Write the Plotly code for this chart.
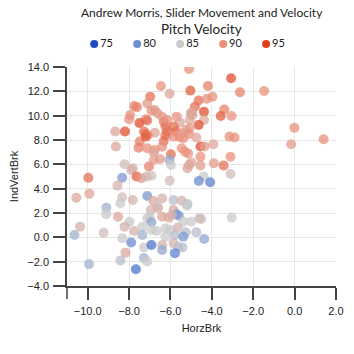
import plotly.graph_objects as go

horz_brk = [-5.1, -3.07, -6.46, -4.19, -5.04, -2.64, -1.47, -6.04, -6.98, -4.64,
            -4.24, -3.97, -7.75, -7.62, -7.12, -6.92, -4.82, -4.38, -4.96, -5.02,
            -3.4, -3.57, -3.05, -4.38, -7.95, -8.0, -7.2, -7.5, -7.12, -6.76,
            -6.63, -6.4, -5.7, -6.32, -5.54, -5.07, -4.94, -4.64, -5.23, -5.07,
            -5.85, -5.73, -6.24, -6.16, -6.16, -8.67, -8.2, -7.28, -7.2, -6.75,
            -7.1, -5.85, -5.54, -5.1, -4.75, -3.15, -2.9, -0.01, -0.17, 1.4,
            -3.93, -4.55, -4.35, -5.42, -5.38, -5.46, -5.3, -5.15, -5.98, -4.55,
            -3.1, -3.9, -3.43, -4.99, -5.1, -5.18, -6.04, -5.98, -4.55, -3.1,
            -4.4, -4.63, -4.08, -6.04, -5.85, -5.46, -5.18, -8.64, -7.48, -7.54,
            -7.12, -7.2, -8.22, -7.9, -7.82, -7.04, -7.64, -7.4, -7.15, -9.97,
            -8.33, -8.56, -10.55, -9.92, -8.33, -8.42, -7.82, -7.12, -9.1, -6.92,
            -6.8, -6.76, -6.82, -6.5, -6.32, -6.4, -6.24, -6.4, -6.82, -5.2,
            -6.63, -6.95, -9.1, -8.53, -10.37, -10.64, -9.23, -7.98, -8.22, -7.75,
            -7.12, -7.0, -7.36, -7.36, -6.92, -6.92, -8.33, -7.9, -7.28, -6.92,
            -8.17, -9.94, -8.42, -7.28, -7.12, -7.67, -5.85, -5.7, -5.6, -6.4,
            -6.08, -5.93, -6.67, -5.38, -4.99, -4.6, -4.52, -3.04, -6.24, -6.0,
            -5.65, -5.26, -4.75, -6.24, -5.78, -5.38, -4.37, -6.4, -6.4, -5.85,
            -5.62, -5.42, -5.78, -6.6]

ind_vert_brk = [13.84, 13.07, 12.44, 12.44, 12.06, 11.92, 12.03, 11.8, 11.56, 11.24,
                11.4, 11.56, 10.8, 10.7, 11.0, 10.4, 10.74, 10.33, 10.3, 10.2,
                10.5, 9.97, 9.97, 9.65, 10.05, 9.7, 9.7, 9.4, 9.6, 10.47,
                10.2, 9.92, 9.92, 9.5, 9.43, 9.65, 10.06, 9.23, 8.82, 8.96,
                9.1, 8.69, 9.1, 8.69, 9.65, 8.7, 8.7, 8.7, 8.5, 8.6,
                8.4, 8.28, 8.22, 8.5, 8.2, 8.28, 8.2, 9.0, 7.65, 8.06,
                7.65, 7.46, 7.46, 8.55, 8.14, 7.32, 7.04, 6.9, 6.83, 6.63,
                6.63, 6.09, 5.9, 6.17, 5.95, 5.68, 6.36, 5.95, 5.9, 5.2,
                5.0, 4.63, 4.53, 4.66, 3.07, 3.0, 2.74, 7.46, 7.87, 7.37,
                7.32, 8.28, 6.0, 5.54, 5.68, 5.82, 5.0, 4.86, 5.0, 4.9,
                4.9, 4.25, 3.26, 3.59, 3.29, 2.8, 3.07, 3.4, 2.44, 5.07,
                6.36, 7.18, 7.0, 6.44, 7.92, 7.45, 8.4, 3.2, 2.99, 2.6,
                2.52, 2.25, 1.9, 1.7, 0.88, 0.19, 0.38, 1.28, 0.88, 0.52,
                1.57, 1.7, 0.88, 0.19, 1.24, 0.6, -0.07, -0.42, -0.84, -0.63,
                -1.26, -2.2, -1.9, -1.7, -1.98, -2.63, 2.25, 1.9, 1.78, 1.7,
                1.62, 1.84, 0.52, 1.28, 1.28, 1.57, 1.5, 1.62, 0.74, 0.6,
                0.81, 0.42, 0.42, 0.06, 0.19, 0.06, -0.13, -0.63, -1.04, -0.49,
                -0.77, -0.84, -1.3, 2.4]

velocity = [90, 94, 90, 91, 93, 91, 90, 88, 92, 92,
            90, 90, 91, 91, 89, 90, 92, 94, 88, 88,
            91, 93, 90, 88, 90, 90, 90, 94, 92, 89,
            89, 89, 90, 91, 88, 88, 88, 94, 89, 89,
            92, 92, 92, 92, 90, 88, 94, 92, 92, 88,
            91, 90, 90, 90, 88, 90, 90, 90, 89, 90,
            88, 94, 89, 89, 90, 90, 90, 90, 92, 90,
            90, 89, 92, 88, 88, 88, 82, 85, 89, 86,
            85, 80, 79, 86, 84, 87, 84, 88, 91, 91,
            90, 93, 86, 87, 87, 91, 93, 89, 87, 92,
            81, 87, 88, 88, 86, 85, 87, 81, 83, 86,
            89, 90, 88, 89, 92, 90, 92, 87, 88, 85,
            85, 87, 85, 88, 87, 83, 86, 85, 87, 87,
            85, 85, 85, 83, 82, 85, 85, 80, 85, 78,
            88, 83, 84, 83, 85, 78, 88, 81, 81, 88,
            88, 87, 85, 85, 85, 86, 86, 85, 85, 85,
            87, 84, 84, 85, 84, 81, 82, 87, 82, 87,
            84, 84, 79, 87]

legend_values = [75, 80, 85, 90, 95]
legend_labels = [str(v) for v in legend_values]
x_ticks = [-10, -8, -6, -4, -2, 0, 2]
y_ticks = [-4, -2, 0, 2, 4, 6, 8, 10, 12, 14]

cmin, cmax = 75, 95
colorscale = [[0.0, "#1d4cc3"], [0.25, "#6d8ed3"], [0.5, "#c9c9c9"],
              [0.75, "#e9917d"], [1.0, "#de3f1b"]]

# layout in pixels
W, H = 354, 354
ML, MR, MT, MB = 67, 10, 30, 68
PH = H - MT - MB            # paper height
PLOT_TOP = 67               # pixel row of the top of the plot area


def py(p):
    """pixel row -> paper fraction"""
    return (H - MB - p) / PH


fig = go.Figure()
fig.add_trace(go.Scatter(
    x=horz_brk, y=ind_vert_brk, mode="markers", showlegend=False,
    marker=dict(size=10, color=velocity, colorscale=colorscale, cmin=cmin, cmax=cmax,
                opacity=0.75, line=dict(width=0)),
    hoverinfo="skip", xaxis="x", yaxis="y"))

# legend row drawn on its own small axes, coloured by the same scale
fig.add_trace(go.Scatter(
    x=list(range(len(legend_values))), y=[0.5] * len(legend_values),
    mode="markers+text", text=legend_labels, textposition="middle right",
    textfont=dict(family="Lato, sans-serif", size=11, color="#222"),
    marker=dict(size=8, color=legend_values, colorscale=colorscale, cmin=cmin, cmax=cmax),
    showlegend=False, hoverinfo="skip", xaxis="x2", yaxis="y2", cliponaxis=False))

axis_font = dict(family="Liberation Sans, Arial, sans-serif", size=11, color="#222")

# legend x scale: index 0 at px 95, spacing 44.25 px
lx0, lstep = 95.0, 44.25
x2_range = [(ML - lx0) / lstep, (W - MR - lx0) / lstep]

fig.update_layout(
    width=W, height=H,
    margin=dict(l=ML, r=MR, t=MT, b=MB),
    paper_bgcolor="white", plot_bgcolor="white",
    showlegend=False,
    xaxis=dict(domain=[0, 1], anchor="y"),
    yaxis=dict(domain=[0, py(PLOT_TOP)], anchor="x"),
    xaxis2=dict(domain=[0, 1], anchor="y2", range=x2_range, visible=False, fixedrange=True),
    yaxis2=dict(domain=[py(50), py(38)], anchor="x2", range=[0, 1], visible=False, fixedrange=True),
    annotations=[
        dict(text="Andrew Morris, Slider Movement and Velocity", xref="paper", yref="paper",
             x=0.5, y=py(12), xanchor="center", yanchor="middle", showarrow=False,
             font=dict(family="Lato, sans-serif", size=12, color="#222")),
        dict(text="Pitch Velocity", xref="paper", yref="paper",
             x=0.5, y=py(29), xanchor="center", yanchor="middle", showarrow=False,
             font=dict(family="Lato, sans-serif", size=13.5, color="#222")),
    ],
    shapes=[dict(type="line", xref="paper", yref="paper", x0=0, x1=0, y0=0, y1=-13 / PH,
                 line=dict(color="#444", width=1.5))],
)

fig.update_xaxes(selector=dict(anchor="y"), range=[-11, 2], tickvals=x_ticks, tickformat=".1f",
                 showgrid=True, gridcolor="#e6e6e6", gridwidth=1, zeroline=False,
                 showline=True, linecolor="#444", linewidth=1.5,
                 ticks="outside", ticklen=12, tickwidth=1.5, tickcolor="#444",
                 tickfont=axis_font, ticklabelstandoff=2,
                 title=dict(text="HorzBrk", font=axis_font, standoff=8))
fig.update_yaxes(selector=dict(anchor="x"), range=[-4, 14], tickvals=y_ticks, tickformat=".1f",
                 showgrid=True, gridcolor="#e6e6e6", gridwidth=1, zeroline=False,
                 showline=True, linecolor="#444", linewidth=1.5,
                 ticks="outside", ticklen=12, tickwidth=1.5, tickcolor="#444",
                 tickfont=axis_font, ticklabelstandoff=2,
                 title=dict(text="IndVertBrk", font=axis_font, standoff=6))

fig.write_html("out.html")
